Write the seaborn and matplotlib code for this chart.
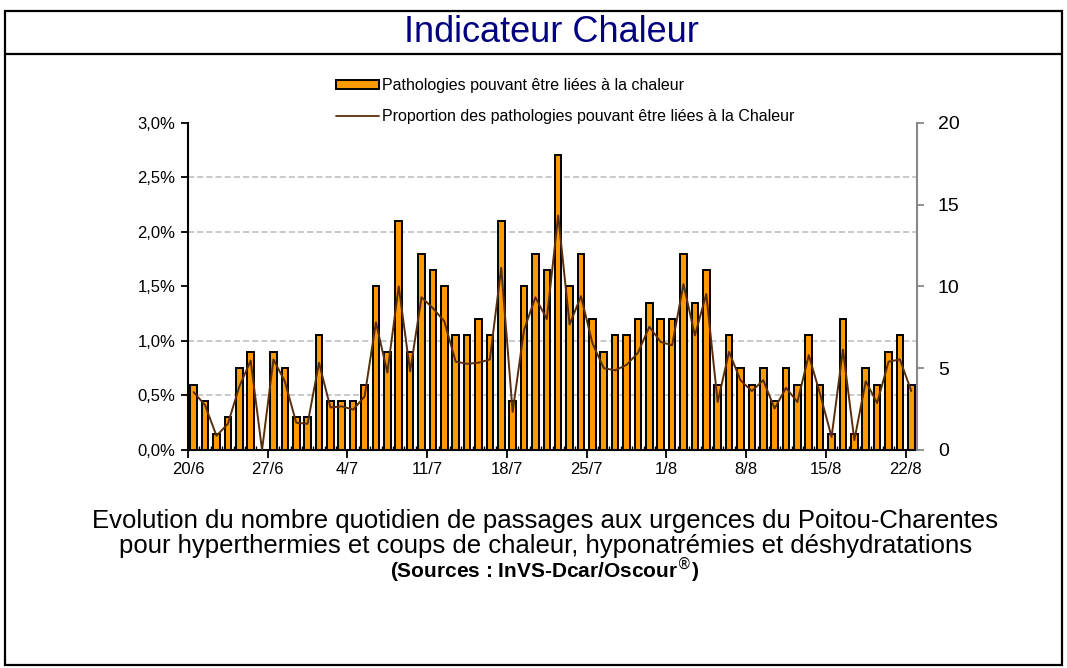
"""Indicateur Chaleur - passages aux urgences du Poitou-Charentes"""

import matplotlib
matplotlib.use("Agg")
import matplotlib.pyplot as plt
from matplotlib.ticker import FixedLocator, MultipleLocator, FuncFormatter
from matplotlib.patches import Rectangle, Patch
from matplotlib.lines import Line2D
import seaborn as sns
import numpy as np
import pandas as pd


# daily counts (right axis) and proportion in % (left axis), 20/6 -> 22/8
passages = [4, 3, 1, 2, 5, 6, 0, 6, 5, 2, 2,
            7, 3, 3, 3, 4, 10, 6, 14, 6, 12, 11, 10, 7, 7, 8, 7, 14, 3, 10, 12, 11,
            18, 10, 12, 8, 6, 7, 7, 8, 9, 8,
            8, 12, 9, 11, 4, 7, 5, 4, 5, 3, 5, 4, 7, 4, 1, 8, 1, 5, 4, 6, 7, 4]
proportion = [0.53, 0.41, 0.13, 0.24, 0.58, 0.82, 0.0, 0.83, 0.63, 0.25, 0.24,
              0.80, 0.39, 0.40, 0.37, 0.49, 1.17, 0.71, 1.50, 0.72, 1.40, 1.30, 1.18, 0.81,
              0.79, 0.80, 0.83, 1.67, 0.35, 1.10, 1.40, 1.20,
              2.15, 1.15, 1.41, 0.98, 0.75, 0.73, 0.78, 0.89, 1.13, 0.99,
              0.96, 1.52, 1.05, 1.43, 0.44, 0.90, 0.64, 0.54, 0.64, 0.38, 0.57,
              0.44, 0.87, 0.51, 0.12, 0.92, 0.09, 0.63, 0.43, 0.81, 0.83, 0.54]
jours = [f"{d.day}/{d.month}" for d in pd.date_range("2010-06-20", periods=len(passages))]
tick_labels = ["20/6", "27/6", "4/7", "11/7", "18/7", "25/7", "1/8", "8/8", "15/8", "22/8"]

ORANGE = "#FF9900"
BROWN = "#5A2D0C"

sns.set_theme(style="white")
plt.rcParams["font.family"] = ["Liberation Sans", "DejaVu Sans"]
plt.rcParams["text.color"] = "black"
plt.rcParams["xtick.labelcolor"] = "black"
plt.rcParams["ytick.labelcolor"] = "black"

fig = plt.figure(figsize=(10.67, 6.68), dpi=100)

# outer frame and title band
fig.patches.append(Rectangle((5 / 1067, 1 - 665 / 668), 1057 / 1067, 654 / 668,
                             transform=fig.transFigure, fill=False,
                             edgecolor="black", lw=1.6))
fig.lines.append(Line2D([5 / 1067, 1062 / 1067], [1 - 54 / 668] * 2,
                        transform=fig.transFigure, color="black", lw=1.6))
fig.text(0.517, 1 - 33 / 668, "Indicateur Chaleur", ha="center", va="center",
         fontsize=26, color="#000080")

ax = fig.add_axes([188 / 1067, 1 - 450 / 668, 729 / 1067, 327.3 / 668])

df = pd.DataFrame({"jour": jours, "passages": passages, "proportion": proportion})
sns.barplot(data=df, x="jour", y="passages", ax=ax, color=ORANGE, saturation=1,
            edgecolor="black", linewidth=1.4, width=0.58, zorder=2)
ax.set_xlabel("")
ax.set_ylabel("")

ax2 = ax.twinx()
sns.lineplot(x=np.arange(len(proportion)), y=proportion, ax=ax2, color=BROWN, lw=1.4)
ax2.set_ylabel("")

# bars -> right axis (counts), line -> left axis (%)
ax.set_ylim(0, 20)
ax.yaxis.tick_right()
ax.yaxis.set_major_locator(MultipleLocator(5))
ax.yaxis.set_minor_locator(MultipleLocator(20 / 6))
ax.grid(which="minor", axis="y", ls=(0, (4, 2)), color="#BBBBBB", lw=1.1, zorder=0)
ax.grid(which="major", axis="y", visible=False)
ax.tick_params(axis="y", which="major", direction="out", length=5, width=1.3,
               color="#888888", labelsize=14, pad=10, right=True, left=False,
               labelright=True, labelleft=False)
ax.tick_params(axis="y", which="minor", length=0)

ax2.set_ylim(0, 3)
ax2.yaxis.tick_left()
ax2.yaxis.set_major_locator(MultipleLocator(0.5))
ax2.yaxis.set_major_formatter(FuncFormatter(lambda v, p: f"{v:.1f}%".replace(".", ",")))
ax2.tick_params(axis="y", direction="out", length=5, width=1.3, color="black",
                labelsize=12, pad=4, left=True, right=False,
                labelleft=True, labelright=False)

ax.set_xlim(-0.5, len(jours) - 0.5)
ax.xaxis.set_major_locator(FixedLocator(np.arange(0, len(jours), 7) - 0.5))
ax.xaxis.set_minor_locator(FixedLocator(np.arange(len(jours)) - 0.5))
ax.xaxis.set_major_formatter(FuncFormatter(lambda v, p: tick_labels[p] if p is not None and p < len(tick_labels) else ""))
ax.tick_params(axis="x", which="major", direction="out", length=6, width=1.3,
               color="black", labelsize=12, pad=3, bottom=True, labelbottom=True)
ax.tick_params(axis="x", which="minor", direction="in", length=3, width=1,
               color="black", bottom=True)

for s in ax.spines.values():
    s.set_visible(False)
ax.spines["bottom"].set_visible(True)
ax.spines["bottom"].set_color("black")
ax.spines["bottom"].set_linewidth(1.5)
ax2.spines["left"].set_color("black")
ax2.spines["left"].set_linewidth(1.5)
ax2.spines["right"].set_color("#888888")
ax2.spines["right"].set_linewidth(1.5)
ax2.spines["top"].set_visible(False)
ax2.spines["bottom"].set_visible(False)

handles = [Patch(facecolor=ORANGE, edgecolor="black", lw=1.4,
                 label="Pathologies pouvant être liées à la chaleur"),
           Line2D([], [], color=BROWN, lw=1.3,
                  label="Proportion des pathologies pouvant être liées à la Chaleur")]
fig.legend(handles=handles, loc="upper left", bbox_to_anchor=(330 / 1067, 1 - 72 / 668),
           frameon=False, fontsize=11.5, handlelength=2.65, handleheight=0.45,
           handletextpad=0.2, labelspacing=0.95, borderaxespad=0)

fig.text(0.511, 1 - 521 / 668,
         "Evolution du nombre quotidien de passages aux urgences du Poitou-Charentes",
         ha="center", va="center", fontsize=18.5)
fig.text(0.511, 1 - 546 / 668,
         "pour hyperthermies et coups de chaleur, hyponatrémies et déshydratations",
         ha="center", va="center", fontsize=18.5)
fig.text(0.511, 1 - 570 / 668, r"(Sources : InVS-Dcar/Oscour$^{\circledR}$)",
         ha="center", va="center", fontsize=15, fontweight="bold")

fig.savefig("out.png", dpi=100)
